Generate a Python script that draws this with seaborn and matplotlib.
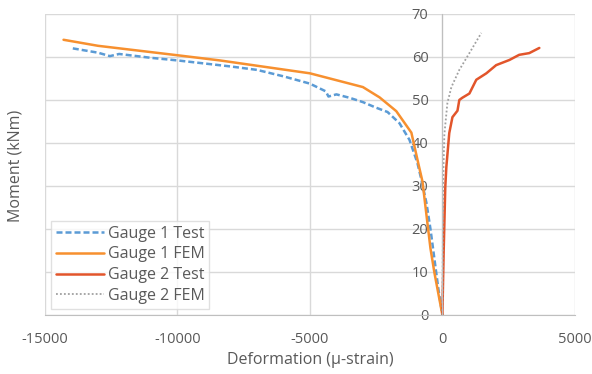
import matplotlib
matplotlib.use("Agg")
import pandas as pd
import seaborn as sns
import matplotlib.pyplot as plt

# Gauge 1 Test (dashed blue)
g1_test_x = [-13950, -13000, -12550, -12200, -11000, -10000, -8000, -7000, -6000, -5000,
             -4400, -4300, -4000, -3500, -3000, -2500, -2070, -1620, -1240, -940,
             -790, -600, -450, -300, -150, 0]
g1_test_y = [62.0, 61.0, 60.2, 60.7, 59.8, 59.2, 57.8, 57.0, 55.5, 53.8,
             52.0, 50.8, 51.3, 50.5, 49.5, 48.2, 47.2, 44.6, 40.7, 35.3,
             31.4, 26.0, 20.0, 13.0, 6.0, 0.0]

# Gauge 1 FEM (orange)
g1_fem_x = [-14300, -13000, -10000, -8400, -5000, -3000, -2370, -1740, -1170, -900,
            -750, -565, -450, -300, 0]
g1_fem_y = [64.0, 62.6, 60.4, 59.2, 56.2, 53.0, 50.6, 47.4, 42.4, 35.0,
            31.0, 21.4, 15.5, 9.8, 0.0]

# Gauge 2 Test (red-orange)
g2_test_x = [0, 50, 110, 150, 260, 380, 570, 640, 750, 1020, 1280, 1660, 2030,
             2530, 2900, 3280, 3660]
g2_test_y = [0.0, 15.0, 29.8, 34.4, 42.3, 46.0, 47.5, 50.0, 50.5, 51.5, 54.7, 56.2,
             58.1, 59.3, 60.5, 60.9, 62.1]

# Gauge 2 FEM (grey dotted)
g2_fem_x = [0, 20, 40, 75, 190, 340, 640, 1020, 1470]
g2_fem_y = [0.0, 20.0, 34.0, 42.0, 49.3, 53.0, 57.0, 60.9, 65.6]

series = [
    ("Gauge 1 Test", g1_test_x, g1_test_y, "#5B9BD5", (0, (2.4, 1.2)), 1.8),
    ("Gauge 1 FEM", g1_fem_x, g1_fem_y, "#F7902F", "-", 1.8),
    ("Gauge 2 Test", g2_test_x, g2_test_y, "#E2552B", "-", 1.8),
    ("Gauge 2 FEM", g2_fem_x, g2_fem_y, "#A0A0A0", (0, (1, 1.2)), 1.3),
]

sns.set_style("white")
plt.rcParams["font.family"] = ["Open Sans", "DejaVu Sans"]
plt.rcParams["axes.unicode_minus"] = False

fig, ax = plt.subplots(figsize=(5.92, 3.74), dpi=100)
fig.subplots_adjust(left=0.076, right=0.971, top=0.9626, bottom=0.158)

for name, xs, ys, color, ls, lw in series:
    df = pd.DataFrame({"x": xs, "y": ys})
    sns.lineplot(data=df, x="x", y="y", sort=False, estimator=None, ax=ax,
                 color=color, linestyle=ls, linewidth=lw, label=name)

ax.set_xlim(-15000, 5000)
ax.set_ylim(0, 70)
ax.set_xticks([-15000, -10000, -5000, 0, 5000])
ax.set_yticks(range(0, 71, 10))
ax.grid(True, color="#D9D9D9", linewidth=1)
ax.set_axisbelow(True)

for s in ["top", "right"]:
    ax.spines[s].set_visible(False)
ax.spines["left"].set_position(("data", 0))
ax.spines["left"].set_color("#BFBFBF")
ax.spines["bottom"].set_color("#BFBFBF")
ax.tick_params(axis="both", colors="#BFBFBF", labelcolor="#595959",
               labelsize=10.5, length=4, direction="out")
ax.tick_params(axis="x", pad=8)
ax.tick_params(axis="y", pad=6)

ax.set_xlabel("Deformation (μ-strain)", color="#595959", fontsize=11.5, labelpad=4)
ax.set_ylabel("")
fig.text(0.026, 0.556, "Moment (kNm)", rotation=90, color="#595959",
         fontsize=11.5, ha="center", va="center")

leg = ax.legend(loc="lower left", bbox_to_anchor=(0.005, 0.01), fontsize=11.5,
                frameon=True, fancybox=False, handlelength=3.0, handletextpad=0.25,
                borderpad=0.3, labelspacing=0.3, borderaxespad=0.2)
leg.get_frame().set_edgecolor("#D9D9D9")
leg.get_frame().set_linewidth(1)
for t in leg.get_texts():
    t.set_color("#595959")

fig.savefig("out.png", dpi=100)
